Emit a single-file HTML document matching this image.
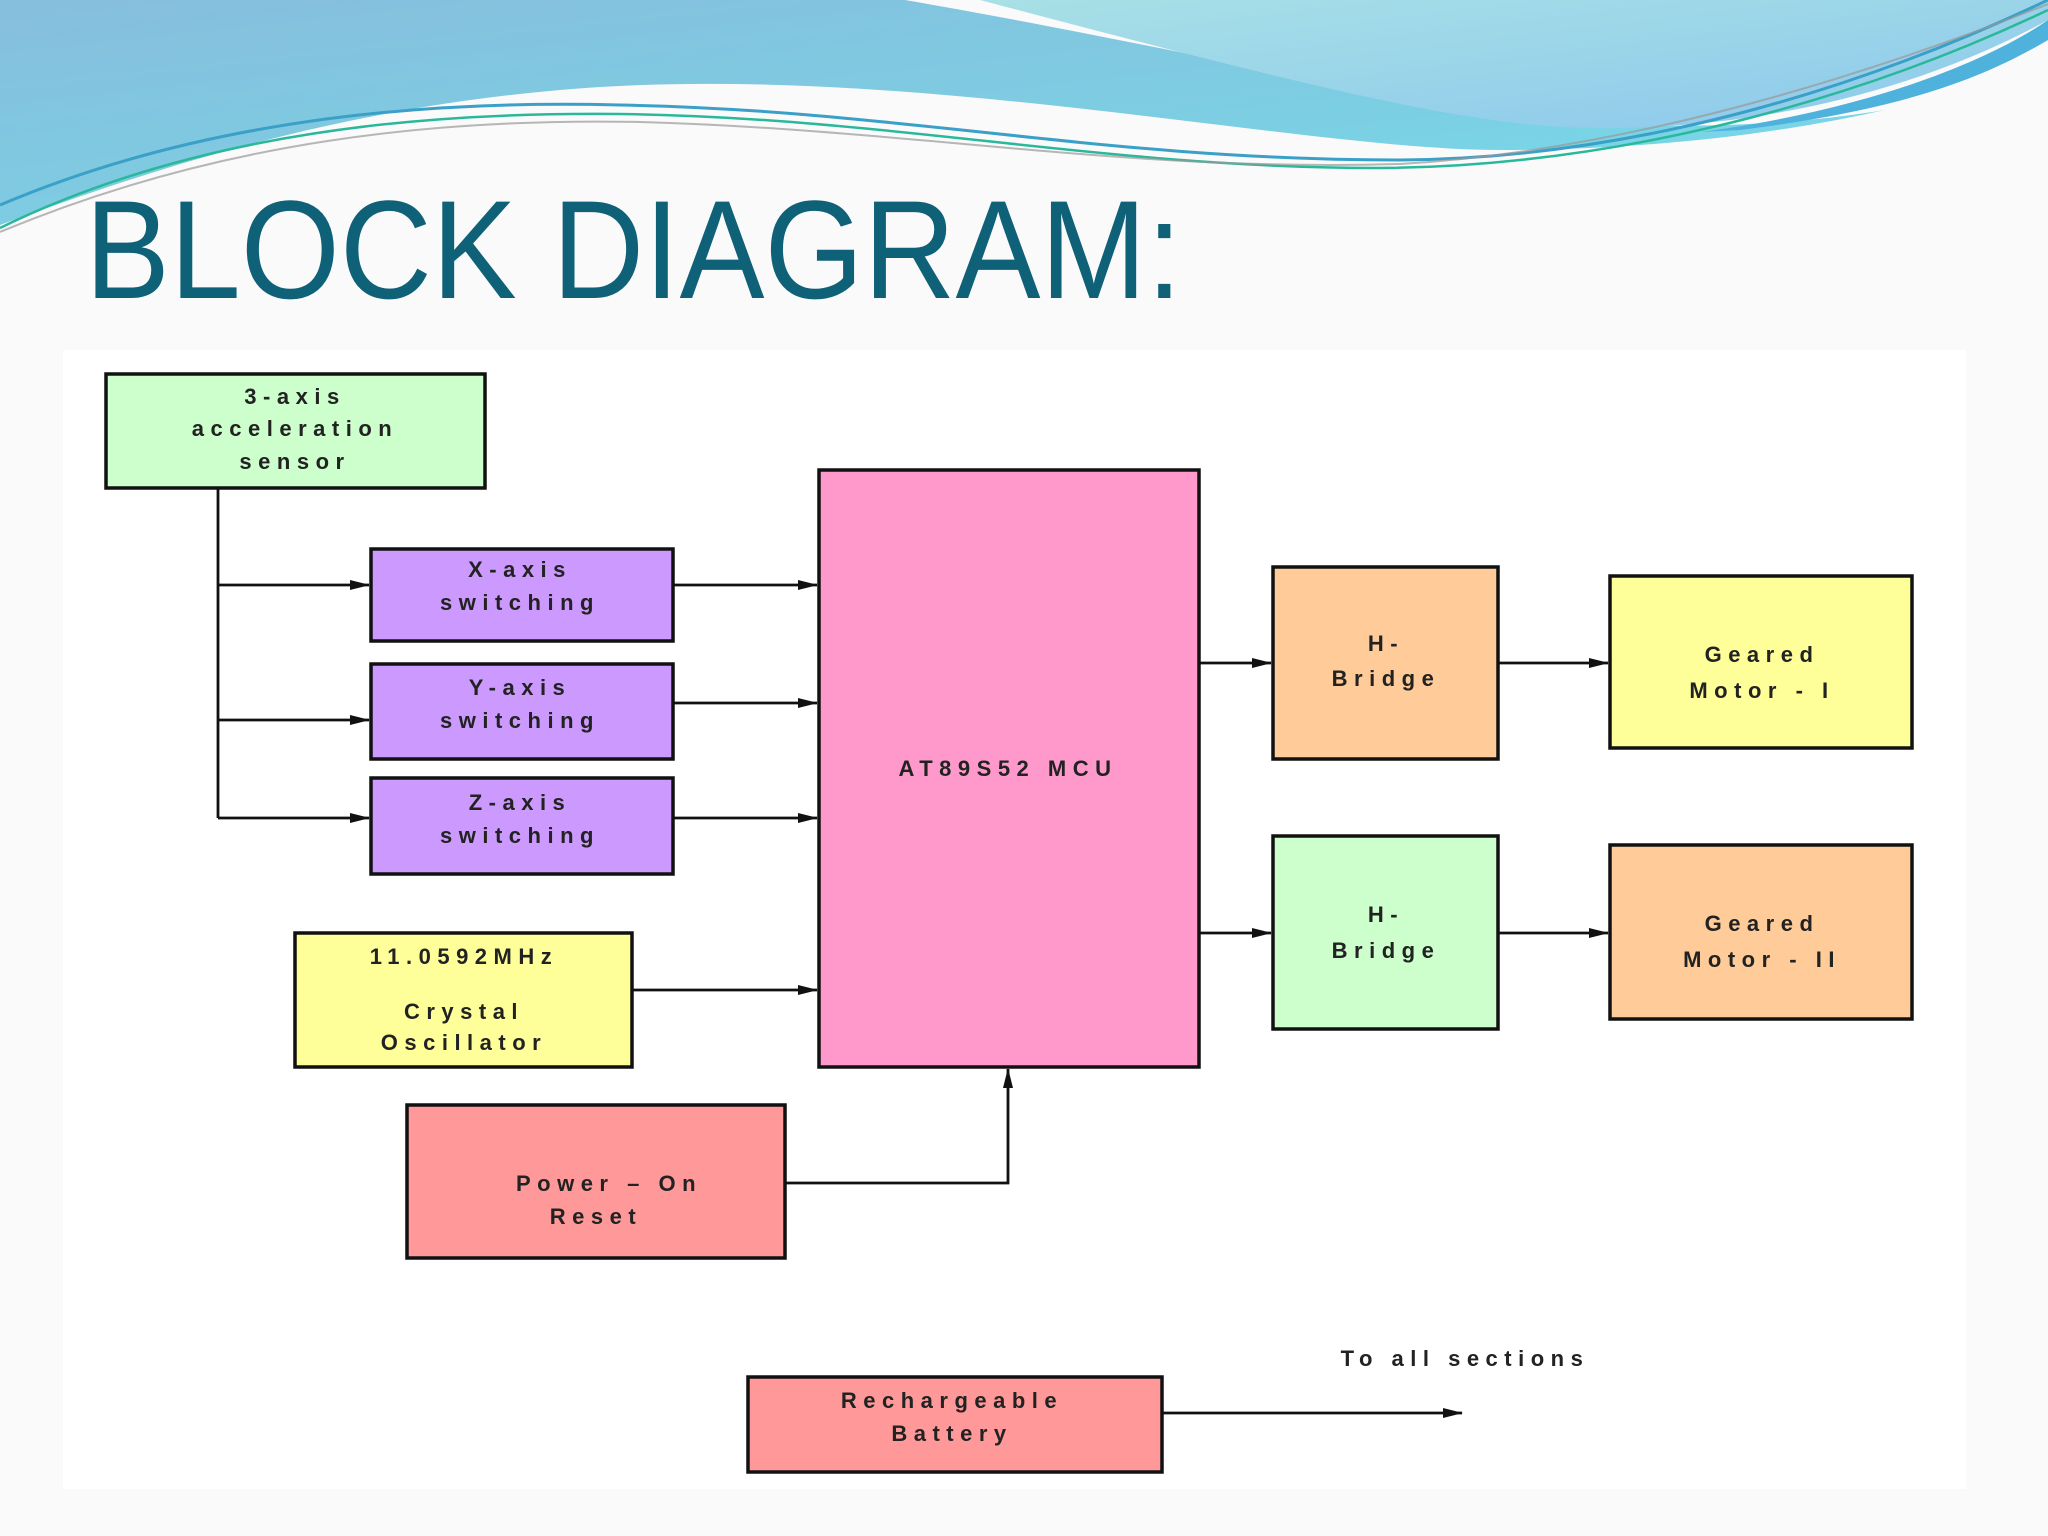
<!DOCTYPE html>
<html><head><meta charset="utf-8"><style>
html,body{margin:0;padding:0;background:#fafafb;}
svg{display:block;}
.t{font-family:"Liberation Sans",sans-serif;font-size:22px;font-weight:bold;fill:#222;text-anchor:middle;letter-spacing:6.5px;}
.b{stroke:#111;stroke-width:3.5;}
.l{stroke:#111;stroke-width:2.8;fill:none;}
</style></head><body>
<svg width="2048" height="1536" viewBox="0 0 2048 1536" xmlns="http://www.w3.org/2000/svg">
<defs>
<linearGradient id="g1" x1="0" y1="0" x2="1" y2="1">
<stop offset="0" stop-color="#86bedd"/><stop offset="0.6" stop-color="#7ccfe3"/><stop offset="1" stop-color="#70e2ee"/>
</linearGradient>
<linearGradient id="g2" x1="0" y1="0" x2="1" y2="1">
<stop offset="0" stop-color="#a8e0e6"/><stop offset="1" stop-color="#8cc8ec"/>
</linearGradient>
<marker id="a" markerWidth="20" markerHeight="12" refX="19" refY="6" orient="auto" markerUnits="userSpaceOnUse">
<path d="M0,1 L20,6 L0,11 Z" fill="#111"/></marker>
</defs>
<rect width="2048" height="1536" fill="#fafafb"/>
<!-- waves -->
<path d="M0,0 L2048,0 L2048,60 C1900,120 1700,150 1500,150 C1300,150 900,60 560,90 C330,110 150,170 0,225 Z" fill="url(#g1)"/>
<path d="M905,0 L2048,0 L2048,60 C1950,110 1800,130 1620,125 C1450,118 1250,60 905,0 Z" fill="#fafafb"/>
<path d="M980,0 L2048,0 L2048,20 C1920,90 1760,130 1590,128 C1470,126 1320,90 980,0 Z" fill="url(#g2)"/>
<path d="M2048,40 C1980,80 1900,110 1740,130 L1700,132 C1870,110 1990,60 2048,20 Z" fill="#4fb2dc"/>
<path d="M0,205 C200,120 420,100 620,105 C900,110 1100,160 1400,160 C1650,158 1880,80 2048,0" stroke="#3aa0c8" stroke-width="3" fill="none"/>
<path d="M0,228 C200,130 430,112 620,114 C900,118 1100,168 1380,168 C1640,166 1880,90 2048,10" stroke="#2ab89a" stroke-width="2.5" fill="none"/>
<path d="M0,232 C220,140 440,118 640,122 C920,130 1120,172 1400,164 C1640,150 1880,70 2048,4" stroke="#999" stroke-width="2" fill="none" opacity="0.7"/>
<text x="85" y="298" font-family="Liberation Sans, sans-serif" font-size="140" fill="#0f6178" textLength="1097" lengthAdjust="spacingAndGlyphs">BLOCK DIAGRAM:</text>
<!-- diagram panel -->
<rect x="63" y="350" width="1903" height="1139" fill="#ffffff"/>
<!-- connectors -->
<path class="l" d="M218,488 V818"/>
<line class="l" x1="218" y1="585" x2="369" y2="585" marker-end="url(#a)"/>
<line class="l" x1="218" y1="720" x2="369" y2="720" marker-end="url(#a)"/>
<line class="l" x1="218" y1="818" x2="369" y2="818" marker-end="url(#a)"/>
<line class="l" x1="673" y1="585" x2="817" y2="585" marker-end="url(#a)"/>
<line class="l" x1="673" y1="703" x2="817" y2="703" marker-end="url(#a)"/>
<line class="l" x1="673" y1="818" x2="817" y2="818" marker-end="url(#a)"/>
<line class="l" x1="632" y1="990" x2="817" y2="990" marker-end="url(#a)"/>
<path class="l" d="M785,1183 H1008 V1069" stroke-width="4" marker-end="url(#a)"/>
<line class="l" x1="1199" y1="663" x2="1271" y2="663" marker-end="url(#a)"/>
<line class="l" x1="1498" y1="663" x2="1608" y2="663" marker-end="url(#a)"/>
<line class="l" x1="1199" y1="933" x2="1271" y2="933" marker-end="url(#a)"/>
<line class="l" x1="1498" y1="933" x2="1608" y2="933" marker-end="url(#a)"/>
<line class="l" x1="1162" y1="1413" x2="1462" y2="1413" marker-end="url(#a)"/>
<!-- boxes -->
<rect class="b" x="106" y="374" width="379" height="114" fill="#ccffcc"/>
<rect class="b" x="371" y="549" width="302" height="92" fill="#cc99ff"/>
<rect class="b" x="371" y="664" width="302" height="95" fill="#cc99ff"/>
<rect class="b" x="371" y="778" width="302" height="96" fill="#cc99ff"/>
<rect class="b" x="819" y="470" width="380" height="597" fill="#ff99cc"/>
<rect class="b" x="295" y="933" width="337" height="134" fill="#ffff99"/>
<rect class="b" x="407" y="1105" width="378" height="153" fill="#ff9999"/>
<rect class="b" x="1273" y="567" width="225" height="192" fill="#ffcc99"/>
<rect class="b" x="1610" y="576" width="302" height="172" fill="#ffff99"/>
<rect class="b" x="1273" y="836" width="225" height="193" fill="#ccffcc"/>
<rect class="b" x="1610" y="845" width="302" height="174" fill="#ffcc99"/>
<rect class="b" x="748" y="1377" width="414" height="95" fill="#ff9999"/>
<!-- labels -->
<text class="t" x="295" y="404">3-axis</text>
<text class="t" x="295" y="436">acceleration</text>
<text class="t" x="295" y="469">sensor</text>
<text class="t" x="520" y="577">X-axis</text>
<text class="t" x="520" y="610">switching</text>
<text class="t" x="520" y="695">Y-axis</text>
<text class="t" x="520" y="728">switching</text>
<text class="t" x="520" y="810">Z-axis</text>
<text class="t" x="520" y="843">switching</text>
<text class="t" x="1008" y="776">AT89S52 MCU</text>
<text class="t" x="464" y="964">11.0592MHz</text>
<text class="t" x="464" y="1019">Crystal</text>
<text class="t" x="464" y="1050">Oscillator</text>
<text class="t" x="609" y="1191">Power – On</text>
<text class="t" x="596" y="1224">Reset</text>
<text class="t" x="1386" y="651">H-</text>
<text class="t" x="1386" y="686">Bridge</text>
<text class="t" x="1762" y="662">Geared</text>
<text class="t" x="1762" y="698">Motor - I</text>
<text class="t" x="1386" y="922">H-</text>
<text class="t" x="1386" y="958">Bridge</text>
<text class="t" x="1762" y="931">Geared</text>
<text class="t" x="1762" y="967">Motor - II</text>
<text class="t" x="952" y="1408">Rechargeable</text>
<text class="t" x="952" y="1441">Battery</text>
<text class="t" x="1465" y="1366">To all sections</text>
</svg>
</body></html>
